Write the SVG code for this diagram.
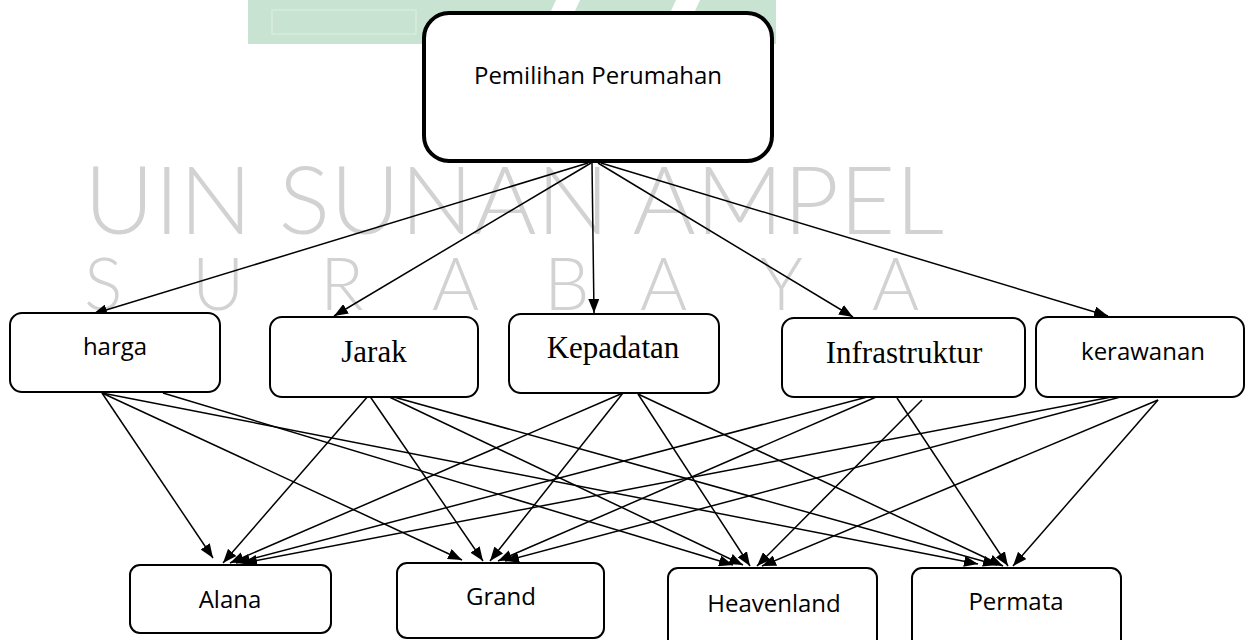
<svg xmlns="http://www.w3.org/2000/svg" width="1250" height="640" viewBox="0 0 1250 640">
<style>
.box{fill:#fff;stroke:#000;stroke-width:2}
.main{fill:#fff;stroke:#000;stroke-width:4}
.sans{font-family:"Open Sans","Liberation Sans",sans-serif;font-size:24px;fill:#000;text-anchor:middle}
.serif{font-family:"Liberation Serif","Times New Roman",serif;font-size:31px;fill:#000;text-anchor:middle}
.wm{font-family:"Lato","Open Sans","Liberation Sans",sans-serif;font-weight:300;fill:#d2d2d2}
#connectors line{stroke:#000;stroke-width:1.5;marker-end:url(#arr)}
</style>
<defs>
<marker id="arr" markerUnits="userSpaceOnUse" markerWidth="14" markerHeight="11" refX="14" refY="5.5" orient="auto">
<path d="M0,0 L14,5.5 L0,11 z" fill="#000"/>
</marker>
</defs>
<rect width="1250" height="640" fill="#fff"/>
<g id="watermark">
<rect x="248" y="0" width="528" height="44" fill="#c9e3d2"/>
<rect x="272" y="10" width="144" height="24" fill="none" stroke="#d6ebdd" stroke-width="1.5"/>
<polygon points="556,0 580,0 560,44 536,44" fill="#fff"/>
<polygon points="676,0 700,0 680,44 656,44" fill="#fff"/>
<text class="wm"><tspan x="84" y="234" font-size="95" textLength="860" lengthAdjust="spacingAndGlyphs">UIN SUNAN AMPEL</tspan><tspan x="84 192 320 432 544 640 760 872" y="310" font-size="72">SURABAYA</tspan></text>
</g>
<g id="connectors">
<line x1="588" y1="163" x2="93" y2="314"/>
<line x1="591" y1="163" x2="334" y2="316"/>
<line x1="592" y1="163" x2="594" y2="313"/>
<line x1="598" y1="163" x2="853" y2="317"/>
<line x1="601" y1="163" x2="1108" y2="316"/>
<line x1="102" y1="393" x2="213" y2="558"/>
<line x1="102" y1="393" x2="462" y2="560"/>
<line x1="102" y1="393" x2="978" y2="564"/>
<line x1="163" y1="393" x2="733" y2="565"/>
<line x1="369" y1="395" x2="223" y2="563"/>
<line x1="369" y1="395" x2="483" y2="561"/>
<line x1="383" y1="394" x2="743" y2="565"/>
<line x1="383" y1="394" x2="997" y2="565"/>
<line x1="623" y1="393" x2="230" y2="563"/>
<line x1="623" y1="393" x2="490" y2="561"/>
<line x1="638" y1="394" x2="750" y2="566"/>
<line x1="638" y1="394" x2="1003" y2="566"/>
<line x1="890" y1="391" x2="236" y2="563"/>
<line x1="890" y1="391" x2="498" y2="561"/>
<line x1="897" y1="398" x2="1008" y2="566"/>
<line x1="922" y1="400" x2="757" y2="566"/>
<line x1="1143" y1="391" x2="243" y2="563"/>
<line x1="1143" y1="391" x2="505" y2="561"/>
<line x1="1158" y1="400" x2="762" y2="566"/>
<line x1="1158" y1="400" x2="1013" y2="566"/>
</g>
<g id="pemilihan">
<rect class="main" x="424" y="13" width="348" height="148" rx="25"/>
<text class="sans" x="598" y="84" font-size="25">Pemilihan Perumahan</text>
</g>
<g id="harga">
<rect class="box" x="10" y="313" width="210" height="79" rx="12"/>
<text class="sans" x="115" y="355">harga</text>
</g>
<g id="jarak">
<rect class="box" x="270" y="317" width="208" height="80" rx="12"/>
<text class="serif" x="374" y="362">Jarak</text>
</g>
<g id="kepadatan">
<rect class="box" x="509" y="314" width="210" height="79" rx="12"/>
<text class="serif" x="613" y="358">Kepadatan</text>
</g>
<g id="infrastruktur">
<rect class="box" x="782" y="318" width="243" height="79" rx="12"/>
<text class="serif" x="904" y="363">Infrastruktur</text>
</g>
<g id="kerawanan">
<rect class="box" x="1036" y="317" width="208" height="80" rx="12"/>
<text class="sans" x="1143" y="360">kerawanan</text>
</g>
<g id="alana">
<rect class="box" x="130" y="565" width="201" height="68" rx="10"/>
<text class="sans" x="230" y="608">Alana</text>
</g>
<g id="grand">
<rect class="box" x="397" y="563" width="207" height="75" rx="10"/>
<text class="sans" x="501" y="605">Grand</text>
</g>
<g id="heavenland">
<rect class="box" x="668" y="568" width="209" height="82" rx="10"/>
<text class="sans" x="774" y="612">Heavenland</text>
</g>
<g id="permata">
<rect class="box" x="912" y="568" width="209" height="82" rx="10"/>
<text class="sans" x="1016" y="610">Permata</text>
</g>
</svg>
